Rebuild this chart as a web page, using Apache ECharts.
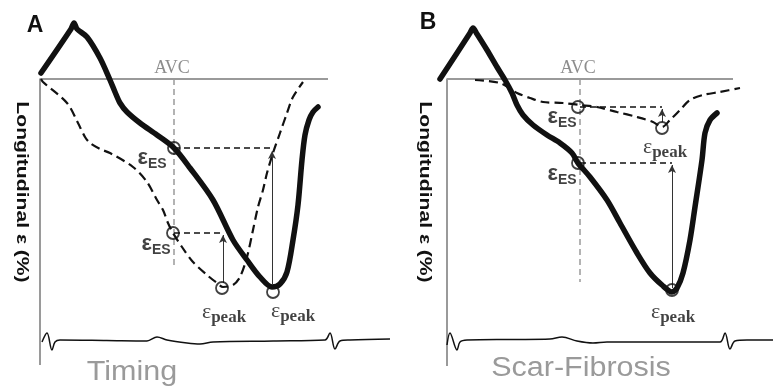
<!DOCTYPE html>
<html><head><meta charset="utf-8">
<script src="https://cdn.jsdelivr.net/npm/echarts@6/dist/echarts.min.js"></script>
<style>html,body{margin:0;padding:0;background:#fff}#c{width:774px;height:392px}</style>
</head><body><div id="c"></div>
<script>
// x: time (ms from QRS), y: longitudinal strain (%)
const panelLetters = ['A', 'B'];
const panelTitles = ['Timing', 'Scar-Fibrosis'];
const yTitle = 'Longitudinal ε (%)';
const avcLabel = 'AVC';

// Panel A
const solidA = [[3,0.6],[93,5.0],[102,5.6],[111,5.0],[141,4.2],[180,2.1],[210,-0.1],[225,-1.3],[240,-2.4],[261,-3.3],[300,-4.4],[351,-5.6],[402,-6.9],[450,-8.9],[519,-12.1],[579,-16.1],[621,-18.1],[660,-19.8],[696,-20.8],[720,-20.5],[741,-19.3],[759,-16.1],[774,-12.6],[786,-8.1],[795,-5.6],[807,-4.1],[819,-3.3],[834,-2.8]];
const dashedA = [[3,0],[9,-0.3],[81,-2.4],[114,-4.4],[135,-5.8],[150,-6.4],[180,-7.0],[210,-7.4],[279,-8.8],[321,-10.3],[351,-12.1],[369,-13.1],[384,-14.4],[399,-15.4],[426,-16.8],[459,-18.3],[501,-19.6],[531,-20.4],[549,-20.8],[579,-20.6],[600,-19.8],[621,-17.8],[639,-15.1],[654,-12.8],[669,-11.1],[681,-9.4],[699,-7.4],[720,-5.4],[741,-3.4],[759,-1.8],[789,-0.3]];
const frameA = [[0,-28.6],[0,0],[864,0]];
const avcA = [[402,0],[402,-18.9]];
const refsA = [[[402,-6.9],[696,-6.9]],[[402,-15.4],[549,-15.4]]];
const arrowsA = [[[696,-20.6],[696,-7.2]],[[549,-20.4],[549,-15.6]]];
const circlesA = [[402,-6.9],[399,-15.4],[546,-20.9],[699,-21.3]];
const ecgA = [[6,-26.3],[21,-25.4],[36,-27.1],[45,-26.3],[60,-26.1],[200,-26.15],[321,-26.2],[351,-25.8],[381,-26.1],[441,-26.4],[480,-26.5],[519,-26.3],[700,-26.2],[855,-26.1],[870,-25.4],[885,-27.0],[900,-26.2],[930,-26.1],[1050,-26.0]];

// Panel B
const solidB = [[-21,0],[69,4.6],[78,5.1],[90,4.5],[120,2.9],[150,1.2],[174,-0.1],[195,-1.4],[210,-2.6],[228,-3.6],[258,-4.6],[300,-5.6],[339,-6.4],[375,-7.4],[393,-8.4],[429,-9.8],[480,-12.1],[519,-14.4],[570,-17.4],[609,-19.4],[645,-20.6],[675,-21.3],[690,-20.9],[708,-19.4],[729,-16.1],[744,-12.8],[765,-8.1],[774,-5.4],[789,-4.1],[810,-3.4]];
const dashedB = [[84,-0.1],[159,-0.4],[210,-1.4],[249,-1.9],[288,-2.3],[348,-2.4],[399,-2.6],[450,-2.8],[510,-3.3],[570,-3.8],[618,-4.3],[645,-4.8],[669,-4.1],[699,-3.1],[729,-2.1],[768,-1.6],[819,-1.3],[879,-0.9]];
const frameB = [[0,-28.7],[0,0],[858,0]];
const avcB = [[399,0],[399,-20.3]];
const refsB = [[[399,-2.8],[645,-2.8]],[[399,-8.4],[675,-8.4]]];
const arrowsB = [[[675,-20.9],[675,-8.6]],[[645,-4.3],[645,-3.0]]];
const circlesB = [[393,-2.8],[393,-8.4],[645,-4.9],[675,-21.1]];
const ecgB = [[0,-26.6],[9,-25.4],[30,-27.1],[39,-26.3],[60,-26.1],[200,-26.05],[309,-26.0],[345,-25.8],[390,-26.2],[438,-26.4],[480,-26.3],[650,-26.3],[819,-26.3],[834,-25.4],[849,-27.0],[864,-26.2],[900,-26.1],[978,-26.1]];

const K = '#111';
const GRAY = '#9a9a9a';
const SANS = 'Liberation Sans, Arial, sans-serif';
const SERIF = 'Liberation Serif, Times New Roman, serif';

const richES = {
  e: {fontFamily: SANS, fontWeight: 'bold', fontSize: 22, lineHeight: 22, color: K},
  s: {fontFamily: SANS, fontWeight: 'bold', fontSize: 14, lineHeight: 14, color: K, padding: [13, 0, 0, 0]}
};
const richPeak = {
  e: {fontFamily: SERIF, fontSize: 22, lineHeight: 22, color: K},
  p: {fontFamily: SERIF, fontWeight: 'bold', fontSize: 17, lineHeight: 17, color: K, padding: [11, 0, 0, 0]}
};

function line(g, data, lineStyle, extra) {
  return Object.assign({
    type: 'line', xAxisIndex: g, yAxisIndex: g, data: data, symbol: 'none',
    lineStyle: lineStyle, silent: true, animation: false, clip: false
  }, extra || {});
}
function labelPt(g, pt, text, rich, offset) {
  return {
    type: 'scatter', xAxisIndex: g, yAxisIndex: g, data: [pt], symbolSize: 0,
    silent: true, animation: false, z: 6,
    label: {show: true, position: 'inside', offset: offset, formatter: text, rich: rich,
      align: 'center', verticalAlign: 'middle'}
  };
}

function panel(g, P, offsets) {
  const s = [];
  s.push(line(g, P.frame, {color: GRAY, width: 2}, {
    markLine: {
      silent: true, animation: false, symbol: ['none', 'arrow'], symbolSize: [6, 8],
      label: {show: false}, lineStyle: {color: '#333', width: 1, type: 'solid'},
      data: P.arrows.map(a => [{coord: a[0]}, {coord: a[1]}])
    }
  }));
  s.push(line(g, P.avc, {color: GRAY, width: 1.5, type: [6, 4]}));
  P.refs.forEach(r => s.push(line(g, r, {color: K, width: 1.5, type: [6, 4]})));
  s.push(line(g, P.dashed, {color: K, width: 2.2, type: [9, 5]}, {smooth: 0.3, z: 3}));
  s.push(line(g, P.solid, {color: K, width: 5.5, cap: 'round', join: 'round'}, {smooth: 0.3, z: 4}));
  s.push(line(g, P.ecg, {color: K, width: 1.5}, {smooth: 0.35}));
  s.push({
    type: 'scatter', xAxisIndex: g, yAxisIndex: g, data: P.circles, symbol: 'circle', symbolSize: 12,
    silent: true, animation: false, z: 5,
    itemStyle: {color: 'rgba(255,255,255,0)', borderColor: K, borderWidth: 1.8}
  });
  s.push(labelPt(g, P.avc[0], avcLabel, null, [-2, -11]));
  s[s.length - 1].label.fontFamily = SERIF;
  s[s.length - 1].label.fontSize = 18;
  s[s.length - 1].label.color = '#707070';
  const kinds = ['{e|ε}{s|ES}', '{e|ε}{s|ES}', '{e|ε}{p|peak}', '{e|ε}{p|peak}'];
  P.circles.forEach((c, i) => {
    s.push(labelPt(g, c, kinds[i], i < 2 ? richES : richPeak, offsets[i]));
  });
  return s;
}

const series = [].concat(
  panel(0, {frame: frameA, avc: avcA, refs: refsA, arrows: arrowsA, dashed: dashedA, solid: solidA, ecg: ecgA, circles: circlesA},
    [[-22, 10], [-17, 11], [2, 24], [20, 19]]),
  panel(1, {frame: frameB, avc: avcB, refs: refsB, arrows: arrowsB, dashed: dashedB, solid: solidB, ecg: ecgB, circles: circlesB},
    [[-16, 10], [-16, 11], [3, 19], [1, 22]])
);

const axisHidden = {show: false};
const option = {
  backgroundColor: '#fff',
  animation: false,
  grid: [
    {left: 30, top: 9, width: 360, height: 380},
    {left: 437, top: 9, width: 337, height: 380}
  ],
  xAxis: [
    Object.assign({type: 'value', gridIndex: 0, min: -30, max: 1050}, axisHidden),
    Object.assign({type: 'value', gridIndex: 1, min: -30, max: 981}, axisHidden)
  ],
  yAxis: [
    Object.assign({type: 'value', gridIndex: 0, min: -31, max: 7}, axisHidden),
    Object.assign({type: 'value', gridIndex: 1, min: -31, max: 7}, axisHidden)
  ],
  graphic: [
    {type: 'text', x: 35, y: 26, style: {text: panelLetters[0], font: 'bold 23px ' + SANS, fill: K, textAlign: 'center', textVerticalAlign: 'middle'}},
    {type: 'text', x: 428, y: 23, style: {text: panelLetters[1], font: 'bold 23px ' + SANS, fill: K, textAlign: 'center', textVerticalAlign: 'middle'}},
    {type: 'text', x: 21, y: 192, rotation: -Math.PI / 2, scaleX: 1.32, style: {text: yTitle, font: 'bold 16px ' + SANS, fill: K, textAlign: 'center', textVerticalAlign: 'middle'}},
    {type: 'text', x: 424, y: 192, rotation: -Math.PI / 2, scaleX: 1.32, style: {text: yTitle, font: 'bold 16px ' + SANS, fill: K, textAlign: 'center', textVerticalAlign: 'middle'}},
    {type: 'text', x: 132, y: 373, scaleX: 1.13, style: {text: panelTitles[0], font: '27px ' + SANS, fill: GRAY, textAlign: 'center', textVerticalAlign: 'middle'}},
    {type: 'text', x: 581, y: 369, scaleX: 1.13, style: {text: panelTitles[1], font: '27px ' + SANS, fill: GRAY, textAlign: 'center', textVerticalAlign: 'middle'}}
  ],
  series: series
};
const chart = echarts.init(document.getElementById('c'));
chart.setOption(option);
</script>
</body></html>
